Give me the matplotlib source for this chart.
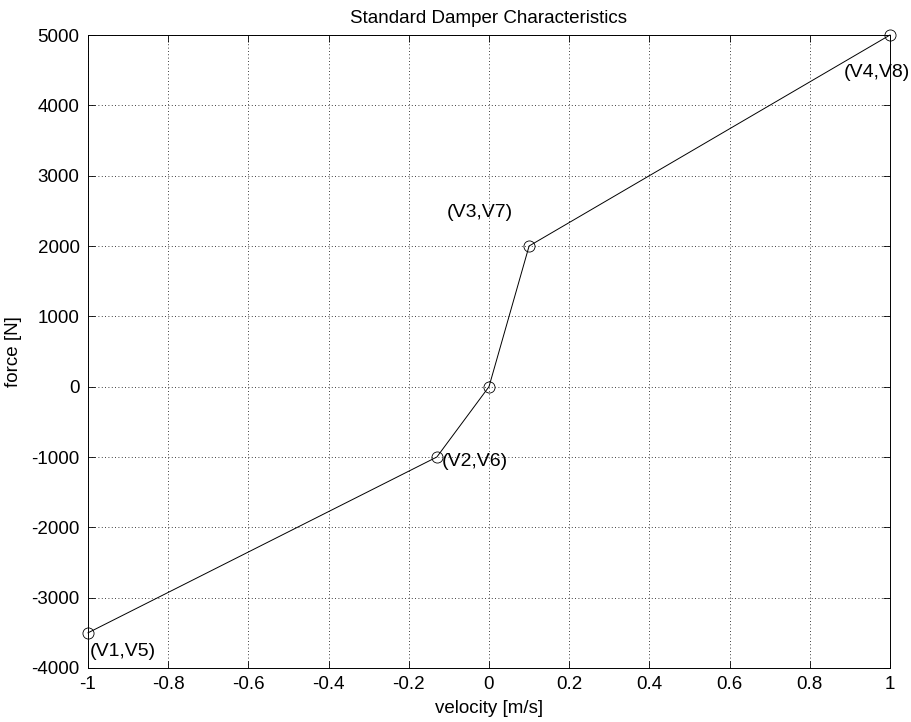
import matplotlib
matplotlib.use("Agg")
import matplotlib.pyplot as plt

velocity = [-1.0, -0.13, 0.0, 0.1, 1.0]
force = [-3500, -1000, 0, 2000, 5000]
labels = ["(V1,V5)", "(V2,V6)", "", "(V3,V7)", "(V4,V8)"]
label_x = [-0.995, -0.117, None, -0.105, 0.885]
label_y = [-3760, -1070, None, 2480, 4470]
xticks = [-1, -0.8, -0.6, -0.4, -0.2, 0, 0.2, 0.4, 0.6, 0.8, 1]
yticks = [-4000, -3000, -2000, -1000, 0, 1000, 2000, 3000, 4000, 5000]

plt.rcParams['font.family'] = ['Liberation Sans', 'DejaVu Sans']
FS = 13.5

fig = plt.figure(figsize=(9.11, 7.22), dpi=100)
ax = fig.add_axes([88/911, 1-668/722, (890-88)/911, (668-35)/722])
ax.plot(velocity, force, color='black', lw=0.7, marker='o', markersize=8,
        markerfacecolor='none', markeredgecolor='black', markeredgewidth=0.6,
        clip_on=False, zorder=3)
for lx, ly, t in zip(label_x, label_y, labels):
    if t:
        ax.text(lx, ly, t, ha='left', va='center', fontsize=14)
ax.set_xlim(-1, 1)
ax.set_ylim(-4000, 5000)
ax.set_xticks(xticks)
ax.set_xticklabels([f"{v:g}" for v in xticks])
ax.set_yticks(yticks)
ax.set_yticklabels([f"{v:g}" for v in yticks])
ax.grid(True, linestyle=(0, (1, 3)), color='black', lw=0.6)
ax.tick_params(direction='in', length=5, width=0.6, top=True, right=True, labelsize=FS)
ax.tick_params(axis='x', pad=6)
ax.tick_params(axis='y', pad=6)
for s in ax.spines.values():
    s.set_linewidth(0.7)
ax.set_xlabel('velocity [m/s]', fontsize=FS, labelpad=5)
ax.set_ylabel('force [N]', fontsize=FS, labelpad=7)
ax.set_title('Standard Damper Characteristics', fontsize=FS, pad=9)
fig.savefig('out.png', dpi=100)
